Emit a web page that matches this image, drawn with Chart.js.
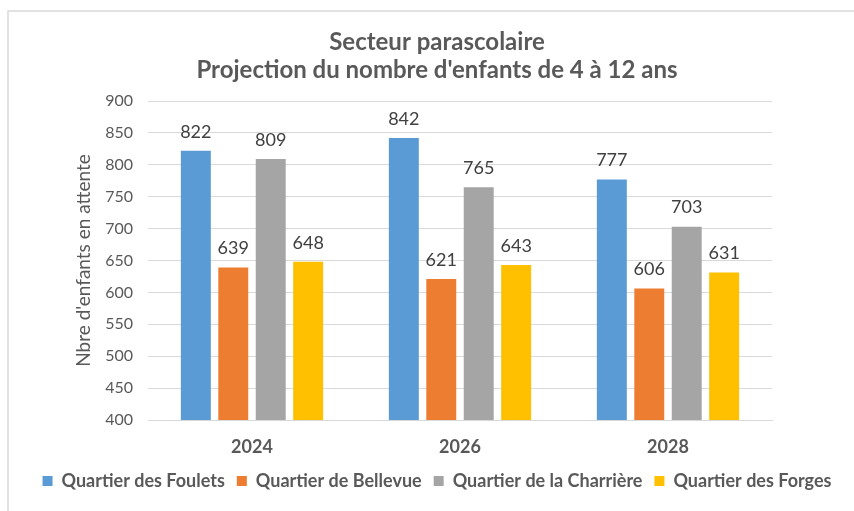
<!DOCTYPE html>
<html>
<head>
<meta charset="utf-8">
<script src="https://cdn.jsdelivr.net/npm/chart.js@4"></script>
<style>
html,body{margin:0;padding:0;background:#fff;}
#wrap{width:854px;height:511px;position:relative;}
</style>
</head>
<body>
<div id="wrap"><canvas id="c" width="854" height="511"></canvas></div>
<script>
const categories = ['2024', '2026', '2028'];
const seriesNames = ['Quartier des Foulets', 'Quartier de Bellevue', 'Quartier de la Charrière', 'Quartier des Forges'];
const foulets = [822, 842, 777];
const bellevue = [639, 621, 606];
const charriere = [809, 765, 703];
const forges = [648, 643, 631];
const yTicks = [400, 450, 500, 550, 600, 650, 700, 750, 800, 850, 900];
const titleLines = ['Secteur parascolaire', "Projection du nombre d'enfants de 4 à 12 ans"];
const yTitle = "Nbre d'enfants en attente";

const colors = ['#5B9BD5', '#ED7D31', '#A5A5A5', '#FFC000'];
const values = [foulets, bellevue, charriere, forges];
const FONT = 'Lato, "Open Sans", sans-serif';
const TXT = '#595959';

const borderPlugin = {
  id: 'border',
  beforeDraw(chart) {
    const ctx = chart.ctx;
    ctx.save();
    ctx.fillStyle = '#fff';
    ctx.fillRect(0, 0, chart.width, chart.height);
    ctx.strokeStyle = '#d9d9d9';
    ctx.lineWidth = 1.5;
    ctx.strokeRect(8, 11, chart.width + 20, chart.height + 20);
    ctx.restore();
  }
};

const labelPlugin = {
  id: 'valueLabels',
  afterDatasetsDraw(chart) {
    const ctx = chart.ctx;
    ctx.save();
    ctx.font = '18px ' + FONT;
    ctx.fillStyle = '#404040';
    ctx.textAlign = 'center';
    ctx.textBaseline = 'bottom';
    chart.data.datasets.forEach((ds, i) => {
      const meta = chart.getDatasetMeta(i);
      meta.data.forEach((bar, j) => {
        ctx.fillText(String(ds.data[j]), bar.x, bar.y - 10);
      });
    });
    ctx.restore();
  }
};

new Chart(document.getElementById('c'), {
  type: 'bar',
  data: {
    labels: categories,
    datasets: seriesNames.map((n, i) => ({
      label: n,
      data: values[i],
      backgroundColor: colors[i],
      borderWidth: 0,
      categoryPercentage: 0.72,
      barPercentage: 0.8
    }))
  },
  options: {
    responsive: false,
    animation: false,
    layout: { padding: { left: 20, right: 0, top: 0, bottom: 11 } },
    plugins: {
      title: {
        display: true,
        text: titleLines,
        color: TXT,
        font: { family: FONT, size: 24, weight: 'bold', lineHeight: 28 / 24 },
        padding: { top: 28, bottom: 17 }
      },
      legend: {
        position: 'bottom',
        labels: {
          color: TXT,
          boxWidth: 10,
          boxHeight: 10,
          padding: 12,
          font: { family: FONT, size: 18, weight: 'bold' }
        }
      },
      tooltip: { enabled: false }
    },
    scales: {
      x: {
        grid: { display: false },
        border: { display: true, color: '#d9d9d9', width: 1 },
        ticks: { color: TXT, font: { family: FONT, size: 18, weight: 'bold' }, padding: 8 },
        afterFit(s) { s.height = 40; }
      },
      y: {
        min: 400, max: 900,
        afterBuildTicks(s) { s.ticks = yTicks.map(v => ({ value: v })); },
        grid: { color: '#d9d9d9', lineWidth: 1, drawTicks: false },
        border: { display: false },
        ticks: { color: TXT, font: { family: FONT, size: 16 }, padding: 15 },
        title: { display: true, text: yTitle, color: TXT, font: { family: FONT, size: 19 }, padding: { top: 52, bottom: 0 } },
        afterFit(s) { s.width = 128; }
      },
      y2: {
        position: 'right',
        display: true,
        grid: { display: false },
        border: { display: false },
        ticks: { display: false },
        afterFit(s) { s.width = 82; }
      }
    }
  },
  plugins: [borderPlugin, labelPlugin]
});
</script>
</body>
</html>
